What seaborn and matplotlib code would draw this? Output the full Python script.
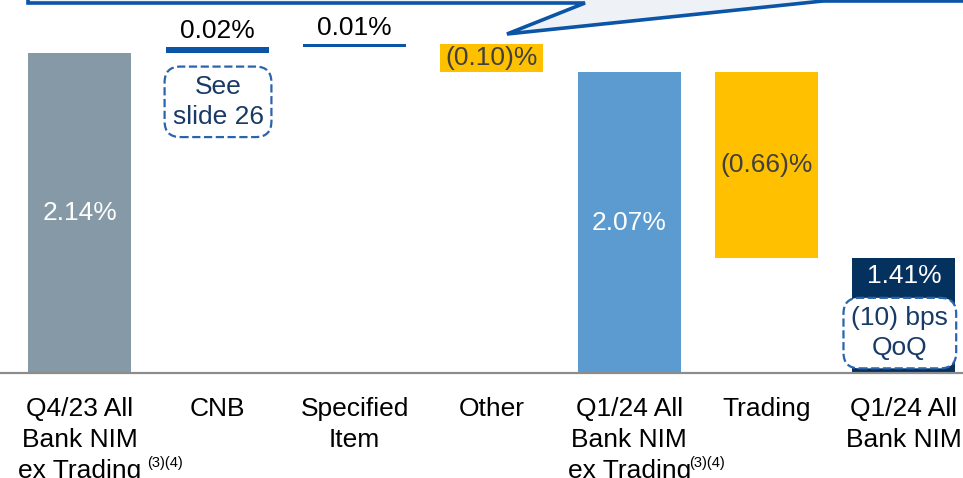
import matplotlib
matplotlib.use("Agg")
import matplotlib.pyplot as plt
from matplotlib.patches import Polygon
import matplotlib.transforms as mtransforms
import pandas as pd
import seaborn as sns

# ---- data -------------------------------------------------------------
categories = [
    "Q4/23 All\nBank NIM\nex Trading",
    "CNB",
    "Specified\nItem",
    "Other",
    "Q1/24 All\nBank NIM\nex Trading",
    "Trading",
    "Q1/24 All\nBank NIM",
]
values = [2.14, 0.02, 0.01, -0.10, 2.07, -0.66, 1.41]
is_total = [True, False, False, False, True, False, True]
value_labels = ["2.14%", "0.02%", "0.01%", "(0.10)%", "2.07%", "(0.66)%", "1.41%"]
footnotes = ["(3)(4)", "", "", "", "(3)(4)", "", ""]
bar_colors = ["#8599A6", "#0B55A6", "#0B55A6", "#FFC000", "#5B9BD0", "#FFC000", "#05315F"]

# ---- waterfall geometry: totals start at zero, steps float on the running level
bottoms, heights = [], []
level = 0.0
for v, tot in zip(values, is_total):
    if tot:
        bottoms.append(0.0)
        level = v
    else:
        bottoms.append(level)
        level += v
    heights.append(v)
df = pd.DataFrame({"step": categories, "height": heights})

sns.set_theme(style="white")
plt.rcParams["font.family"] = ["Liberation Sans", "DejaVu Sans"]

FS = 19
NAVY_TXT = "#173A66"
BOX_EDGE = "#2A64AD"

fig = plt.figure(figsize=(9.63, 4.78), dpi=100)
ax = fig.add_axes([0, 105 / 478, 1, 373 / 478])

sns.barplot(data=df, x="step", y="height", order=categories, bottom=bottoms,
            width=0.75, errorbar=None, color="grey", linewidth=0, ax=ax)
for patch, c in zip(ax.patches, bar_colors):
    patch.set_facecolor(c)
    patch.set_edgecolor("none")

ax.set_ylim(1.0, 1.0 + 373 / 281)
ax.set_xlim(-0.5825, 6.43)

# ---- value labels ------------------------------------------------------
y0 = ax.get_ylim()[0]
for i, (v, b, tot, lab) in enumerate(zip(values, bottoms, is_total, value_labels)):
    top = b + v
    if tot:
        if i == len(values) - 1:
            ax.annotate(lab, (i, top), xytext=(0, -18), textcoords="offset pixels",
                        ha="center", va="center", color="white", fontsize=FS)
        else:
            ax.text(i, (y0 + top) / 2, lab, ha="center", va="center",
                    color="white", fontsize=FS)
    elif v > 0:
        ax.annotate(lab, (i, top), xytext=(0, 9), textcoords="offset pixels",
                    ha="center", va="baseline", color="black", fontsize=FS)
    else:
        ax.text(i, b + v / 2, lab, ha="center", va="center",
                color="#404040", fontsize=FS)

# ---- dashed call-out boxes --------------------------------------------
box = dict(boxstyle="round,pad=0.3,rounding_size=0.6", fc="white",
           ec=BOX_EDGE, ls="--", lw=1.6)
ax.text(1.005, 1.965, "See\nslide 26", ha="center", va="center", color=NAVY_TXT,
        fontsize=FS, linespacing=1.35, bbox=dict(box, pad=0.36), zorder=5)
ax.text(5.97, 1.142, "(10) bps\nQoQ", ha="center", va="center", color=NAVY_TXT,
        fontsize=FS, linespacing=1.35, bbox=box, zorder=5)

# ---- axes styling -----------------------------------------------------
ax.set_xlabel("")
ax.set_ylabel("")
ax.set_yticks([])
ax.set_xticks(range(len(categories)))
ax.set_xticklabels(categories, fontsize=FS, linespacing=1.37, color="black")
ax.tick_params(axis="x", length=0, pad=17)
for s in ("top", "left", "right"):
    ax.spines[s].set_visible(False)
ax.spines["bottom"].set_color("#8C8C8C")
ax.spines["bottom"].set_linewidth(1.6)

# footnote markers next to the ex-Trading labels
xform = mtransforms.blended_transform_factory(ax.transData, ax.transAxes)
note_dx = [67, 0, 0, 0, 60, 0, 0]
for i, note in enumerate(footnotes):
    if note:
        ax.annotate(note, (i, 0), xycoords=xform, xytext=(note_dx[i], -94),
                    textcoords="offset pixels", ha="left", va="baseline",
                    fontsize=10.5, color="black", annotation_clip=False)

# ---- speech-bubble call-out along the top edge -------------------------
W, H = 963.0, 478.0
pts_px = [(28, -60), (28, 3), (585, 3), (507, 34), (823, 1), (1000, 1), (1000, -60)]
pts = [(x / W, 1 - y / H) for x, y in pts_px]
fig.add_artist(Polygon(pts, closed=True, transform=fig.transFigure,
                       fc="#EEF2F7", ec="#0B55A6", lw=2.6, clip_on=False))

fig.savefig("out.png", dpi=100)
